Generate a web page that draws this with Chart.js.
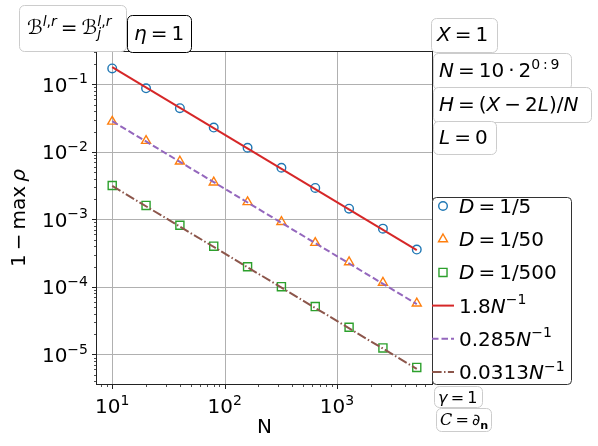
<!DOCTYPE html>
<html>
<head>
<meta charset="utf-8">
<script src="https://cdn.jsdelivr.net/npm/chart.js@4.4.0/dist/chart.umd.min.js"></script>
<style>
html, body { margin: 0; padding: 0; background: #fff; }
canvas { display: block; }
</style>
</head>
<body>
<canvas id="rhoChart" width="598" height="446"></canvas>
<script>
// valores
const N = [10, 20, 40, 80, 160, 320, 640, 1280, 2560, 5120];
const rhoD5 = [0.172, 0.0873, 0.0443, 0.0229, 0.0115, 0.00582, 0.00292, 0.00144, 0.00073, 0.000358];
const rhoD50 = [0.0281, 0.0146, 0.00721, 0.00353, 0.00181, 0.000918, 0.00045, 0.000233, 0.000116, 0.0000571];
const rhoD500 = [0.00318, 0.00161, 0.000818, 0.000401, 0.000199, 0.000101, 0.0000512, 0.0000253, 0.0000125, 0.00000643];
const fitN = [10, 5120];
const fit18 = [0.18, 0.0003516];
const fit285 = [0.0285, 0.0000557];
const fit0313 = [0.00313, 0.00000611];
const seriesLabels = ['D = 1/5', 'D = 1/50', 'D = 1/500', '1.8N^{−1}', '0.285N^{−1}', '0.0313N^{−1}'];
const xTicks = [10, 100, 1000];
const xTickLabels = ['10^{1}', '10^{2}', '10^{3}'];
const yTicks = [1e-5, 1e-4, 1e-3, 1e-2, 1e-1];
const yTickLabels = ['10^{−5}', '10^{−4}', '10^{−3}', '10^{−2}', '10^{−1}'];

const FONT = '"DejaVu Sans"';

// cajas de texto alrededor del grafico
const boxes = [
    { s: 'ℬ^{l,r} = ℬ_{j}^{l,r}', x: 19, y: 5, w: 107, h: 46, tx: 27, ty: 34, size: 20, edge: '#cccccc' },
    { s: 'η = 1', x: 127, y: 15, w: 64, h: 37, tx: 134, ty: 40, size: 20, edge: '#000000' },
    { s: 'X = 1', x: 431, y: 18, w: 66, h: 34, tx: 437, ty: 41, size: 20, edge: '#cccccc' },
    { s: 'N = 10 · 2^{0 : 9}', x: 433, y: 53, w: 138, h: 36, tx: 439, ty: 77, size: 20, edge: '#cccccc' },
    { s: 'H = (X − 2L)/N', x: 433, y: 87, w: 158, h: 35, tx: 439, ty: 111, size: 20, edge: '#cccccc' },
    { s: 'L = 0', x: 433, y: 121, w: 63, h: 33, tx: 439, ty: 144, size: 20, edge: '#cccccc' },
    { s: 'γ = 1', x: 434, y: 386, w: 48, h: 21, tx: 438, ty: 403, size: 16, edge: '#cccccc' },
    { s: '\\cal{C} = ∂_{\\bf{n}}', x: 436, y: 408, w: 55, h: 23, tx: 440, ty: 425, size: 16, edge: '#cccccc' }
];
const legendBox = { x: 432, y: 197, w: 139, h: 187 };

// mini mathtext: letras en cursiva, ^{} _{} \rm{} \bf{} \cal{}
function parseMath(s, style) {
    const nodes = [];
    let i = 0;
    const readGroup = () => {
        if (s[i] === '{') {
            let depth = 0, j = i;
            for (; j < s.length; j++) {
                if (s[j] === '{') depth++;
                else if (s[j] === '}') { depth--; if (depth === 0) break; }
            }
            const inner = s.slice(i + 1, j);
            i = j + 1;
            return inner;
        }
        return s[i++];
    };
    while (i < s.length) {
        const c = s[i];
        if (c === '^' || c === '_') {
            i++;
            nodes.push({ script: c === '^' ? 'sup' : 'sub', kids: parseMath(readGroup(), style) });
        } else if (c === '\\') {
            const m = /^\\(rm|bf|cal)/.exec(s.slice(i));
            i += m[0].length;
            nodes.push(...parseMath(readGroup(), m[1]));
        } else {
            nodes.push({ ch: c, style });
            i++;
        }
    }
    return nodes;
}

function charFont(n, size) {
    if (n.style === 'bf') return `bold ${size}px ${FONT}`;
    if (n.style === 'cal') return `italic ${size}px "DejaVu Serif"`;
    if (n.style !== 'rm' && /[A-Za-z\u0370-\u03ff]/.test(n.ch)) return `italic ${size}px ${FONT}`;
    return `${size}px ${FONT}`;
}

function layoutMath(ctx, nodes, size, x0, dy, out) {
    let x = x0, last = null;
    for (const n of nodes) {
        if (n.script) {
            const stack = last && last.script && last.script !== n.script;
            const start = stack ? last.start : x;
            const shift = n.script === 'sup' ? -0.42 * size : 0.22 * size;
            const end = layoutMath(ctx, n.kids, size * 0.7, start, dy + shift, out);
            x = stack ? Math.max(end, last.end) : end;
            last = { script: n.script, start, end };
        } else if (n.ch === ' ') {
            x += size * 0.2;
            last = null;
        } else {
            const f = charFont(n, size);
            ctx.font = f;
            out.push({ ch: n.ch, font: f, x, dy });
            x += ctx.measureText(n.ch).width;
            last = null;
        }
    }
    return x;
}

function drawMath(ctx, s, x, y, size, align) {
    const glyphs = [];
    ctx.save();
    const w = layoutMath(ctx, parseMath(s, null), size, 0, 0, glyphs);
    const ox = align === 'right' ? x - w : align === 'center' ? x - w / 2 : x;
    ctx.textAlign = 'left';
    ctx.textBaseline = 'alphabetic';
    ctx.fillStyle = '#000';
    glyphs.forEach(g => { ctx.font = g.font; ctx.fillText(g.ch, ox + g.x, y + g.dy); });
    ctx.restore();
    return w;
}

function roundBox(ctx, x, y, w, h, r) {
    ctx.beginPath();
    ctx.moveTo(x + r, y);
    ctx.arcTo(x + w, y, x + w, y + h, r);
    ctx.arcTo(x + w, y + h, x, y + h, r);
    ctx.arcTo(x, y + h, x, y, r);
    ctx.arcTo(x, y, x + w, y, r);
    ctx.closePath();
}

function drawMarker(ctx, style, r, x, y) {
    ctx.beginPath();
    if (style === 'circle') {
        ctx.arc(x, y, r, 0, Math.PI * 2);
    } else if (style === 'triangle') {
        for (let k = 0; k < 3; k++) {
            const a = k * 2 * Math.PI / 3;
            const px = x + Math.sin(a) * r, py = y - Math.cos(a) * r;
            k ? ctx.lineTo(px, py) : ctx.moveTo(px, py);
        }
        ctx.closePath();
    } else {
        const h = r * Math.SQRT1_2;
        ctx.rect(x - h, y - h, 2 * h, 2 * h);
    }
    ctx.stroke();
}

function logTicks(min, max) {
    const t = [];
    for (let e = Math.floor(Math.log10(min)); e <= Math.ceil(Math.log10(max)); e++) {
        for (let m = 1; m < 10; m++) {
            const v = m * Math.pow(10, e);
            if (v >= min && v <= max) t.push({ v, major: m === 1 });
        }
    }
    return t;
}

const decoPlugin = {
    id: 'mplDeco',
    beforeDraw: (chart) => {
        const ctx = chart.ctx;
        ctx.save();
        ctx.fillStyle = '#fff';
        ctx.fillRect(0, 0, chart.width, chart.height);
        ctx.restore();
    },
    beforeDatasetsDraw: (chart) => {
        const ctx = chart.ctx, a = chart.chartArea;
        const sx = chart.scales.x, sy = chart.scales.y;
        ctx.save();
        ctx.strokeStyle = '#b0b0b0';
        ctx.lineWidth = 1;
        xTicks.forEach(v => {
            const px = Math.round(sx.getPixelForValue(v)) + 0.5;
            ctx.beginPath(); ctx.moveTo(px, a.top); ctx.lineTo(px, a.bottom); ctx.stroke();
        });
        yTicks.forEach(v => {
            const py = Math.round(sy.getPixelForValue(v)) + 0.5;
            ctx.beginPath(); ctx.moveTo(a.left, py); ctx.lineTo(a.right, py); ctx.stroke();
        });
        ctx.restore();
    },
    afterDatasetsDraw: (chart) => {
        const ctx = chart.ctx, a = chart.chartArea;
        const sx = chart.scales.x, sy = chart.scales.y;
        ctx.save();
        // ejes
        ctx.strokeStyle = '#222';
        ctx.lineWidth = 1;
        ctx.strokeRect(Math.round(a.left) - 0.5, Math.round(a.top) - 0.5,
            Math.round(a.right - a.left) + 1, Math.round(a.bottom - a.top) + 1);
        // marcas
        logTicks(sx.min, sx.max).forEach(t => {
            const px = Math.round(sx.getPixelForValue(t.v)) + 0.5;
            ctx.lineWidth = t.major ? 1 : 0.8;
            ctx.beginPath(); ctx.moveTo(px, a.bottom); ctx.lineTo(px, a.bottom + (t.major ? 5 : 3)); ctx.stroke();
        });
        logTicks(sy.min, sy.max).forEach(t => {
            const py = Math.round(sy.getPixelForValue(t.v)) + 0.5;
            ctx.lineWidth = t.major ? 1 : 0.8;
            ctx.beginPath(); ctx.moveTo(a.left, py); ctx.lineTo(a.left - (t.major ? 5 : 3), py); ctx.stroke();
        });
        ctx.restore();

        xTicks.forEach((v, i) => drawMath(ctx, xTickLabels[i], sx.getPixelForValue(v), 413, 20, 'center'));
        yTicks.forEach((v, i) => drawMath(ctx, yTickLabels[i], a.left - 9, sy.getPixelForValue(v) + 7.5, 20, 'right'));

        // titulos
        drawMath(ctx, '\\rm{N}', (a.left + a.right) / 2, 433, 20, 'center');
        ctx.save();
        ctx.translate(25, (a.top + a.bottom) / 2);
        ctx.rotate(-Math.PI / 2);
        drawMath(ctx, '1 − \\rm{max} ρ', 0, 0, 20, 'center');
        ctx.restore();

        // cajas
        boxes.forEach(b => {
            ctx.save();
            roundBox(ctx, b.x + 0.5, b.y + 0.5, b.w, b.h, 5);
            ctx.fillStyle = '#fff';
            ctx.fill();
            ctx.strokeStyle = b.edge;
            ctx.lineWidth = 1;
            ctx.stroke();
            ctx.restore();
            drawMath(ctx, b.s, b.tx, b.ty, b.size, 'left');
        });

        // leyenda
        ctx.save();
        roundBox(ctx, legendBox.x + 0.5, legendBox.y + 0.5, legendBox.w, legendBox.h, 4);
        ctx.fillStyle = '#fff';
        ctx.fill();
        ctx.strokeStyle = '#333';
        ctx.lineWidth = 1;
        ctx.stroke();
        ctx.restore();
        seriesLabels.forEach((lab, i) => {
            const ds = chart.data.datasets[i];
            const cy = legendBox.y + 9 + i * 33.2;
            ctx.save();
            ctx.strokeStyle = ds.borderColor;
            if (ds.showLine) {
                ctx.lineWidth = ds.borderWidth;
                ctx.setLineDash(ds.borderDash || []);
                ctx.beginPath(); ctx.moveTo(legendBox.x, cy); ctx.lineTo(legendBox.x + 22, cy); ctx.stroke();
            } else {
                ctx.lineWidth = ds.pointBorderWidth;
                drawMarker(ctx, ds.pointStyle, ds.pointRadius, legendBox.x + 11, cy);
            }
            ctx.restore();
            drawMath(ctx, lab, legendBox.x + 27, cy + 7, 20, 'left');
        });
    }
};

const pts = vals => N.map((n, i) => ({ x: n, y: vals[i] }));
const fitPts = vals => fitN.map((n, i) => ({ x: n, y: vals[i] }));
const markerSet = (label, vals, color, style, r) => ({
    label, data: pts(vals), showLine: false,
    pointStyle: style, pointRadius: r, pointBorderWidth: 1.4,
    borderColor: color, backgroundColor: 'rgba(0,0,0,0)', order: 1
});
const fitSet = (label, vals, color, dash) => ({
    label, data: fitPts(vals), showLine: true, pointRadius: 0,
    borderColor: color, borderWidth: 2, borderDash: dash, fill: false, tension: 0, order: 0
});

const rhoChart = new Chart(document.getElementById('rhoChart').getContext('2d'), {
    type: 'scatter',
    data: {
        datasets: [
            markerSet(seriesLabels[0], rhoD5, '#1f77b4', 'circle', 4.3),
            markerSet(seriesLabels[1], rhoD50, '#ff7f0e', 'triangle', 5.2),
            markerSet(seriesLabels[2], rhoD500, '#2ca02c', 'rect', 5.7),
            fitSet(seriesLabels[3], fit18, '#d62728', []),
            fitSet(seriesLabels[4], fit285, '#9467bd', [6.5, 3]),
            fitSet(seriesLabels[5], fit0313, '#8c564b', [9.6, 2.4, 1.5, 2.4])
        ]
    },
    options: {
        responsive: false,
        animation: false,
        events: [],
        layout: { padding: { left: 97, right: 166, top: 52, bottom: 62 } },
        plugins: {
            legend: { display: false },
            tooltip: { enabled: false }
        },
        scales: {
            x: { type: 'logarithmic', display: false, min: 7.322, max: 6995 },
            y: { type: 'logarithmic', display: false, min: 3.655e-6, max: 0.301 }
        }
    },
    plugins: [decoPlugin]
});
</script>
</body>
</html>
